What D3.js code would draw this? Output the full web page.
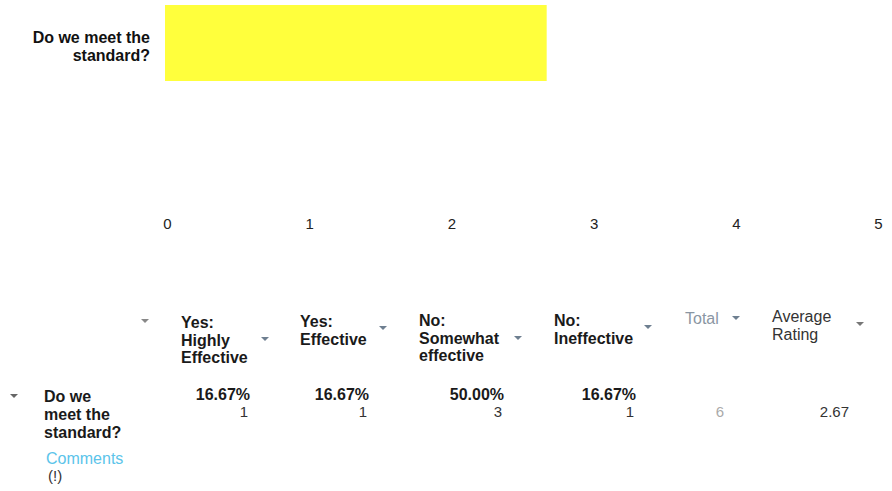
<!DOCTYPE html>
<html><head><meta charset="utf-8">
<script src="https://cdn.jsdelivr.net/npm/d3@7"></script>
<style>
html,body{margin:0;padding:0;background:#fff;}
svg{display:block;font-family:"Liberation Sans",Arial,sans-serif;}
</style></head>
<body><svg id="c" width="892" height="491"></svg>
<script>
// ---- data ----
const question = "Do we meet the standard?";
const averageRating = [2.67];
const xTicks = [0, 1, 2, 3, 4, 5];
const categories = ["Yes: Highly Effective", "Yes: Effective", "No: Somewhat effective", "No: Ineffective"];
const percents = [16.67, 16.67, 50.00, 16.67];
const counts = [1, 1, 3, 1];
const total = [6];

// ---- layout ----
const svg = d3.select("#c");
const x = d3.scaleLinear().domain([0, 5]).range([167, 878]);
const y = d3.scaleBand().domain([question]).range([5, 81]).padding(0);

// bar
svg.append("g").selectAll("rect").data(averageRating).join("rect")
  .attr("x", x(0) - 2).attr("y", y(question))
  .attr("width", d => x(d) - x(0) + 2).attr("height", y.bandwidth())
  .attr("fill", "#ffff3c");

// category label
const lab = svg.append("text").attr("text-anchor", "end")
  .attr("font-weight", "bold").attr("font-size", 16).attr("fill", "#111");
lab.append("tspan").attr("x", 150).attr("y", y(question) + y.bandwidth()/2).text("Do we meet the");
lab.append("tspan").attr("x", 150).attr("y", y(question) + y.bandwidth()/2 + 18).text("standard?");

// axis
const ax = svg.append("g").attr("transform", "translate(0,226)")
  .call(d3.axisBottom(x).tickValues(xTicks).tickSize(0).tickFormat(d3.format("d")));
ax.select(".domain").remove();
ax.selectAll("text").attr("font-size", 15).attr("fill", "#222")
  .attr("font-family", "'Liberation Sans',Arial,sans-serif").attr("dy", 0);

// ---- table ----
function arrow(cx, cy, col) {
  svg.append("path").attr("d", `M${cx-4},${cy-2}L${cx+4},${cy-2}L${cx},${cy+2}Z`).attr("fill", col);
}
const hdrCol = "#6e7f90";
const headerLayout = [
  {x: 181, y: 328, ax: 265, ay: 339},
  {x: 300, y: 327, ax: 383, ay: 328},
  {x: 419, y: 326, ax: 518, ay: 338},
  {x: 554, y: 326, ax: 648, ay: 327}
];
const headerLines = categories.map(c => {
  const i = c.indexOf(":");
  const head = c.slice(0, i + 1), rest = c.slice(i + 2);
  if (rest === "Highly Effective") return [head, "Highly", "Effective"];
  if (rest === "Somewhat effective") return [head, "Somewhat", "effective"];
  return [head, rest];
});
arrow(145, 321, "#888");
headerLines.forEach((lines, i) => {
  const L = headerLayout[i];
  const t = svg.append("text").attr("font-size", 16).attr("font-weight", "bold").attr("fill", "#1a1a1a");
  lines.forEach((s, j) => t.append("tspan").attr("x", L.x).attr("y", L.y + j * 17.5).text(s));
  arrow(L.ax, L.ay, hdrCol);
});
svg.append("text").attr("x", 685).attr("y", 324).attr("font-size", 16).attr("fill", "#8a96a3").text("Total");
arrow(736, 318, hdrCol);
const avg = svg.append("text").attr("font-size", 16).attr("fill", "#333");
avg.append("tspan").attr("x", 772).attr("y", 322).text("Average");
avg.append("tspan").attr("x", 772).attr("y", 340).text("Rating");
arrow(860, 324, "#777");

// row
arrow(14, 396, "#666");
const rl = svg.append("text").attr("font-size", 16).attr("font-weight", "bold").attr("fill", "#1a1a1a");
["Do we", "meet the", "standard?"].forEach((s, j) => rl.append("tspan").attr("x", 44).attr("y", 402 + j * 18).text(s));
svg.append("text").attr("x", 46).attr("y", 464).attr("font-size", 16).attr("fill", "#5bc4ea").text("Comments");
svg.append("text").attr("x", 48).attr("y", 481).attr("font-size", 15).attr("fill", "#333").text("(!)");

const colRight = [250, 369, 504, 636];
svg.append("g").selectAll("text").data(percents).join("text")
  .attr("x", (d, i) => colRight[i]).attr("y", 400).attr("text-anchor", "end")
  .attr("font-size", 16).attr("font-weight", "bold").attr("fill", "#1a1a1a")
  .text(d => d.toFixed(2) + "%");
svg.append("g").selectAll("text").data(counts).join("text")
  .attr("x", (d, i) => colRight[i] - 2).attr("y", 417).attr("text-anchor", "end")
  .attr("font-size", 15).attr("fill", "#333").text(d => d);
svg.append("g").selectAll("text").data(total).join("text")
  .attr("x", 720).attr("y", 417).attr("text-anchor", "middle")
  .attr("font-size", 15).attr("fill", "#aaa").text(d => d);
svg.append("g").selectAll("text").data(averageRating).join("text")
  .attr("x", 849).attr("y", 417).attr("text-anchor", "end")
  .attr("font-size", 15).attr("fill", "#333").text(d => d.toFixed(2));
</script></body></html>
